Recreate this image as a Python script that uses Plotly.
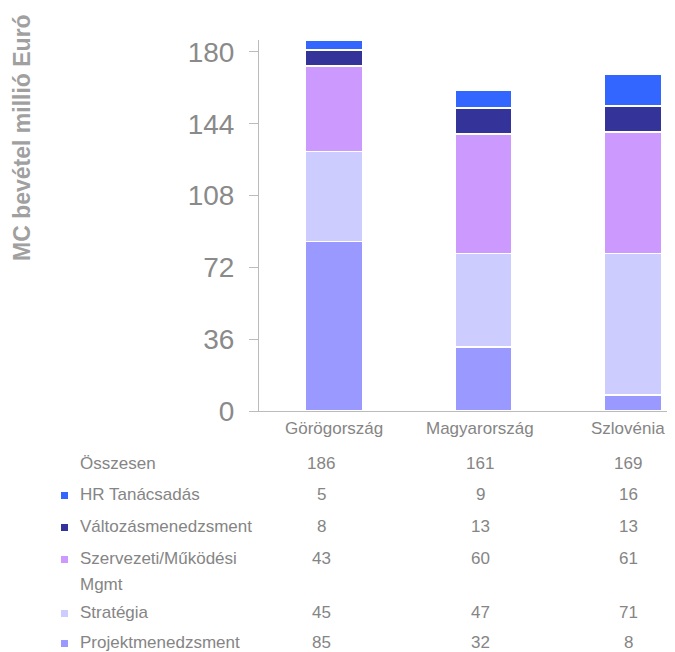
import plotly.graph_objs as go

# data
countries = ['Görögország', 'Magyarország', 'Szlovénia']
series_names = ['Projektmenedzsment', 'Stratégia', 'Szervezeti/Működési Mgmt',
                'Változásmenedzsment', 'HR Tanácsadás']
table_labels = ['Projektmenedzsment', 'Stratégia', 'Szervezeti/Működési\nMgmt',
                'Változásmenedzsment', 'HR Tanácsadás']
projekt = [85, 32, 8]
strategia = [45, 47, 71]
szervezeti = [43, 60, 61]
valtozas = [8, 13, 13]
hr = [5, 9, 16]
totals = [186, 161, 169]
y_ticks = [0, 36, 72, 108, 144, 180]

colors = ['#9999FF', '#CCCCFF', '#CC99FF', '#333399', '#3366FF']
values = [projekt, strategia, szervezeti, valtozas, hr]

# page offset (body margin) and plot area, in page pixels
OFF = 8
W, H = 675 - OFF, 652 - OFF
L, R, T, B = 259, 675, 40, 411


def px(x):
    return (x - L) / (R - L)


def py(y):
    return (B - y) / (B - T)


fig = go.Figure()
for name, vals, col in zip(series_names, values, colors):
    fig.add_trace(go.Bar(
        x=countries, y=vals, name=name,
        marker=dict(color=col, line=dict(color='white', width=1.5)),
        width=0.38,
    ))

grey = '#858585'
annotations = []
shapes = []

# y axis title
annotations.append(dict(
    text='<b>MC bevétel millió Euró</b>', textangle=-90,
    x=px(22), y=py(138), xref='paper', yref='paper',
    xanchor='center', yanchor='middle',
    showarrow=False, font=dict(size=23, color='#a0a0a0'),
))

# category labels (last ones nudged left so they stay inside the page)
label_shift = [0, -3, -5]
for c, s in zip(countries, label_shift):
    annotations.append(dict(
        text=c, x=c, y=py(428), xref='x', yref='paper', xshift=s,
        xanchor='center', yanchor='middle', showarrow=False,
        font=dict(size=17, color=grey),
    ))

# data table below the chart
value_x = [321, 480, 628]
rows = [('Összesen', totals, None, 463)]
row_y = [642, 612, 558, 526, 494]
for name, vals, col, yy in zip(table_labels, values, colors, row_y):
    rows.append((name, vals, col, yy))

for label, vals, col, yy in rows:
    for i, line in enumerate(label.split('\n')):
        annotations.append(dict(
            text=line, x=px(78), y=py(yy + 26 * i), xref='paper', yref='paper',
            xanchor='left', yanchor='middle', align='left', showarrow=False,
            font=dict(size=17, color=grey),
        ))
    if col:
        shapes.append(dict(
            type='rect', xref='paper', yref='paper',
            x0=px(61), x1=px(68), y0=py(yy + 5), y1=py(yy - 2),
            fillcolor=col, line=dict(width=0),
        ))
    for v, vx in zip(vals, value_x):
        annotations.append(dict(
            text=str(v), x=px(vx), y=py(yy), xref='paper', yref='paper',
            xanchor='center', yanchor='middle', showarrow=False,
            font=dict(size=17, color=grey),
        ))

fig.update_layout(
    barmode='stack',
    width=W, height=H,
    margin=dict(l=L - OFF, r=W - (R - OFF), t=T - OFF, b=H - (B - OFF)),
    plot_bgcolor='white', paper_bgcolor='white',
    font=dict(family='Liberation Sans, Arial, sans-serif'),
    showlegend=False,
    xaxis=dict(
        range=[-0.5, 2.28], showline=True, linecolor='#bbbbbb', linewidth=1,
        ticks='', showticklabels=False, showgrid=False, fixedrange=True,
    ),
    yaxis=dict(
        range=[0, 186], tickvals=y_ticks, showline=True, linecolor='#bbbbbb',
        linewidth=1, ticks='outside', ticklen=9, tickcolor='#bbbbbb',
        tickfont=dict(size=28, color='#8a8a8a'), showgrid=False, zeroline=False,
        ticklabelstandoff=9,
    ),
    shapes=shapes,
    annotations=annotations,
)

fig.write_html('out.html')
